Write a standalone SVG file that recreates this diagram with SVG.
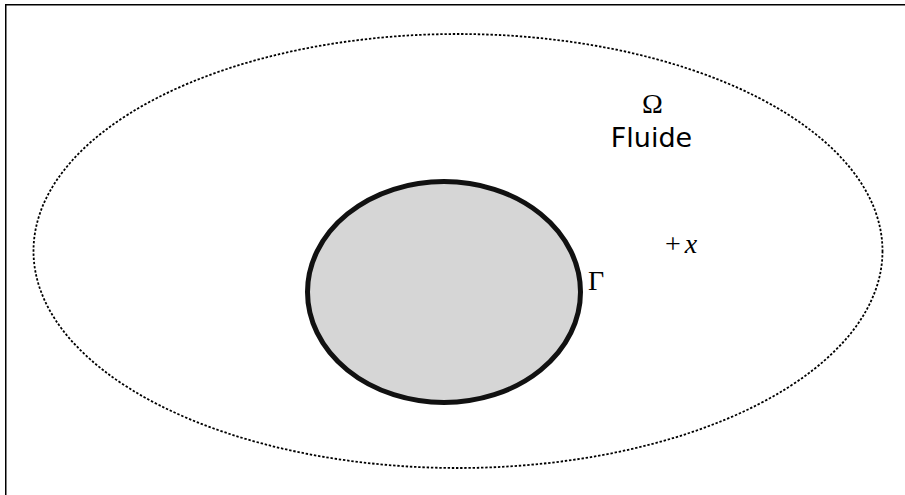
<svg xmlns="http://www.w3.org/2000/svg" width="905" height="495" viewBox="0 0 905 495">
<style>
.serif{font-family:"Liberation Serif","Times New Roman",serif;font-size:28px;fill:#000}
.sans{font-family:"DejaVu Sans","Noto Sans",sans-serif;font-size:27px;fill:#000}
</style>
<rect width="905" height="495" fill="#fff"/>
<g id="frame">
<rect x="5.75" y="4.75" width="920" height="520" fill="none" stroke="#000" stroke-width="1.5"/>
</g>
<g id="fluid">
<ellipse cx="458" cy="251" rx="424.5" ry="217" fill="none" stroke="#000" stroke-width="1.8" stroke-dasharray="2.4 1.8"/>
<text class="serif" x="652.5" y="113" text-anchor="middle" font-size="29">Ω</text>
<text class="sans" x="651.5" y="147" text-anchor="middle">Fluide</text>
</g>
<g id="obstacle">
<ellipse cx="444" cy="292" rx="136.5" ry="110.5" fill="#d6d6d6" stroke="#111" stroke-width="5"/>
<text class="serif" x="588" y="290">Γ</text>
</g>
<g id="point">
<text class="serif" x="665" y="253" font-size="30">+<tspan font-style="italic" dx="4">x</tspan></text>
</g>
</svg>
